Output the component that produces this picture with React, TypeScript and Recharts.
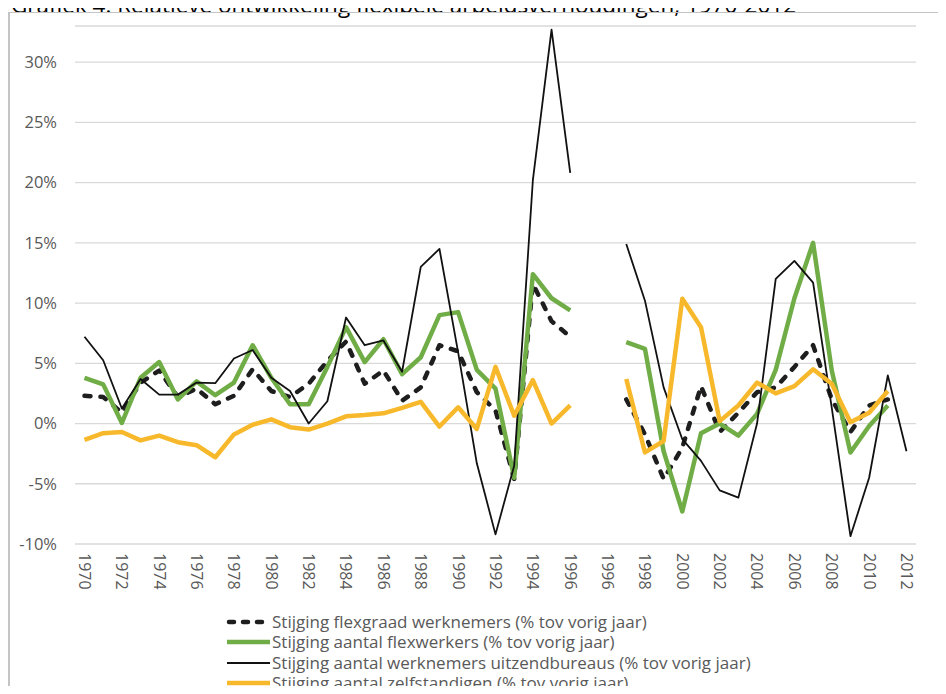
import { ComposedChart, Line, XAxis, YAxis, CartesianGrid, Legend } from 'recharts';

// categorieen: 1970-1996, lege kolom, 1996 (nieuwe reeks) en 1997-2012
const years = [
  '1970', '1971', '1972', '1973', '1974', '1975', '1976', '1977', '1978', '1979',
  '1980', '1981', '1982', '1983', '1984', '1985', '1986', '1987', '1988', '1989',
  '1990', '1991', '1992', '1993', '1994', '1995', '1996', '', '1996', '1997',
  '1998', '1999', '2000', '2001', '2002', '2003', '2004', '2005', '2006', '2007',
  '2008', '2009', '2010', '2011', '2012',
];

// waarden in % tov vorig jaar
const flexgraad = [
  2.3, 2.2, 0.9, 3.4, 4.4, 2.2, 2.9, 1.6, 2.3, 4.5,
  2.7, 2.2, 3.3, 5.2, 6.8, 3.3, 4.4, 1.9, 3.0, 6.5,
  6.0, 2.6, 1.1, -4.6, 11.6, 8.5, 7.2, null, null, 2.0,
  -0.9, -4.6, -2.0, 3.1, -0.7, 0.9, 2.6, 3.0, 4.7, 6.5,
  2.0, -0.7, 1.5, 2.0, null,
];

const flexwerkers = [
  3.8, 3.25, 0.05, 3.8, 5.1, 2.0, 3.5, 2.35, 3.4, 6.5,
  3.8, 1.6, 1.6, 4.7, 8.0, 5.1, 7.0, 4.1, 5.5, 9.0,
  9.25, 4.45, 2.9, -4.5, 12.4, 10.4, 9.4, null, null, 6.75,
  6.2, -2.3, -7.3, -0.8, 0.0, -1.0, 0.8, 4.45, 10.4, 15.0,
  4.4, -2.4, -0.2, 1.5, null,
];

const uitzendbureaus = [
  7.2, 5.25, 1.25, 3.7, 2.4, 2.4, 3.4, 3.35, 5.4, 6.1,
  3.8, 2.7, 0.0, 1.85, 8.8, 6.5, 6.9, 4.3, 13.0, 14.5,
  5.9, -3.3, -9.2, -3.5, 20.2, 32.7, 20.8, null, null, 14.9,
  10.2, 3.0, -1.3, -3.1, -5.55, -6.15, 0.0, 12.0, 13.5, 11.7,
  1.3, -9.35, -4.5, 4.0, -2.3,
];

const zelfstandigen = [
  -1.35, -0.8, -0.7, -1.4, -1.0, -1.55, -1.8, -2.8, -0.9, -0.1,
  0.35, -0.3, -0.5, 0.0, 0.6, 0.7, 0.85, 1.3, 1.8, -0.25,
  1.35, -0.45, 4.7, 0.65, 3.6, 0.0, 1.5, null, null, 3.7,
  -2.4, -1.45, 10.35, 8.0, 0.2, 1.5, 3.4, 2.5, 3.1, 4.5,
  3.3, 0.1, 0.9, 2.7, null,
];

const yTicks = [-10, -5, 0, 5, 10, 15, 20, 25, 30];

const FONT = '"Open Sans", sans-serif';
const GREY = '#595959';

const SERIES = [
  { key: 'flexgraad', name: 'Stijging flexgraad werknemers (% tov vorig jaar)', color: '#1e1e1e', width: 4.5, dash: '6 10' },
  { key: 'flexwerkers', name: 'Stijging aantal flexwerkers (% tov vorig jaar)', color: '#70ad47', width: 4.5, dash: undefined },
  { key: 'uitzendbureaus', name: 'Stijging aantal werknemers uitzendbureaus (% tov vorig jaar)', color: '#111111', width: 1.8, dash: undefined },
  { key: 'zelfstandigen', name: 'Stijging aantal zelfstandigen (% tov vorig jaar)', color: '#f7b92b', width: 4.5, dash: undefined },
];

const data = years.map((year, i) => ({
  year,
  flexgraad: flexgraad[i],
  flexwerkers: flexwerkers[i],
  uitzendbureaus: uitzendbureaus[i],
  zelfstandigen: zelfstandigen[i],
}));

const YearTick = ({ x, y, payload }: { x?: number; y?: number; payload?: { value: string } }) => (
  <g transform={`translate(${x},${y})`}>
    <text
      transform="rotate(90)"
      x={9}
      y={0}
      dy="0.35em"
      textAnchor="start"
      fill={GREY}
      fontSize={16}
      fontFamily={FONT}
    >
      {payload?.value}
    </text>
  </g>
);

const LegendRows = () => (
  <div style={{ display: 'flex', flexDirection: 'column', fontFamily: FONT, fontSize: 17, lineHeight: '20px', color: GREY }}>
    {SERIES.map((s) => (
      <div key={s.key} style={{ display: 'flex', alignItems: 'center', height: 20.3, whiteSpace: 'nowrap' }}>
        <svg width={46} height={10}>
          <line
            x1={s.dash ? 3 : 1}
            x2={s.dash ? 42 : 44}
            y1={5}
            y2={5}
            stroke={s.color}
            strokeWidth={s.width}
            strokeDasharray={s.dash ? '5 9' : undefined}
            strokeLinecap={s.dash ? 'round' : 'butt'}
          />
        </svg>
        <span>{s.name}</span>
      </div>
    ))}
  </div>
);

export default function App() {
  return (
    <div style={{ position: 'relative', width: 946, height: 694, margin: -8, overflow: 'hidden', background: '#fff' }}>
      <div
        style={{
          position: 'absolute',
          left: 11,
          top: -6,
          fontFamily: FONT,
          fontSize: 22.5,
          lineHeight: '22px',
          color: '#000',
          whiteSpace: 'nowrap',
        }}
      >
        Grafiek 4: Relatieve ontwikkeling flexibele arbeidsverhoudingen, 1970-2012
      </div>
      <div style={{ position: 'absolute', left: 0, top: 0 }}>
        <ComposedChart width={946} height={694} data={data} margin={{ top: 26, right: 30, bottom: 100, left: 0 }}>
          <CartesianGrid vertical={false} stroke="#d9d9d9" strokeWidth={1.3} />
          <XAxis
            dataKey="year"
            interval={1}
            padding={{ left: 9.5, right: 9.5 }}
            axisLine={false}
            tickLine={false}
            tickSize={0}
            tickMargin={0}
            height={50}
            tick={<YearTick />}
          />
          <YAxis
            type="number"
            domain={[-10, 33]}
            ticks={yTicks}
            allowDataOverflow
            width={75}
            axisLine={false}
            tickLine={false}
            tickSize={0}
            tickMargin={18}
            tickFormatter={(v: number) => `${v}%`}
            tick={{ fill: GREY, fontSize: 16.5, fontFamily: FONT }}
          />
          {SERIES.map((s) => (
            <Line
              key={s.key}
              type="linear"
              dataKey={s.key}
              name={s.name}
              stroke={s.color}
              strokeWidth={s.width}
              strokeDasharray={s.dash}
              strokeLinecap={s.dash ? 'round' : 'butt'}
              strokeLinejoin="round"
              dot={false}
              activeDot={false}
              connectNulls={false}
              isAnimationActive={false}
            />
          ))}
          <Legend
            layout="vertical"
            verticalAlign="middle"
            align="center"
            content={<LegendRows />}
            wrapperStyle={{ left: 226, top: 612, width: 640 }}
          />
        </ComposedChart>
      </div>
      <div
        style={{
          position: 'absolute',
          left: 8,
          top: 12,
          width: 960,
          height: 720,
          boxSizing: 'border-box',
          borderTop: '1.5px solid #c4c4c4',
          borderLeft: '2px solid #c4c4c4',
          pointerEvents: 'none',
        }}
      />
    </div>
  );
}
